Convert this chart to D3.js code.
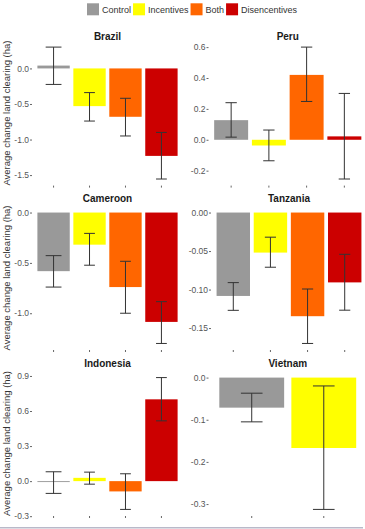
<!DOCTYPE html>
<html>
<head>
<meta charset="utf-8">
<style>
  body { margin: 0; background: #fff; }
  svg { display: block; font-family: "Liberation Sans", Arial, sans-serif; }
  .tick text { fill: #555; font-size: 8.5px; }
  .tick line { stroke: #666; }
</style>
</head>
<body>
<script src="https://cdn.jsdelivr.net/npm/d3@7"></script>
<script>
// treatments and colours
var treatments = ["Control", "Incentives", "Both", "Disencentives"];
var fills = ["#999999", "#ffff00", "#ff6600", "#cc0000"];

var countries = ["Brazil", "Peru", "Cameroon", "Tanzania", "Indonesia", "Vietnam"];

// mean change and error bar limits
var brazilMean = [0.04, -0.53, -0.68, -1.23];
var brazilLow  = [-0.225, -0.74, -0.95, -1.555];
var brazilHigh = [0.30, -0.34, -0.42, -0.90];

var peruMean = [0.127, -0.037, 0.42, 0.022];
var peruLow  = [0.017, -0.136, 0.248, -0.254];
var peruHigh = [0.24, 0.063, 0.60, 0.30];

var cameroonMean = [-0.582, -0.319, -0.740, -1.086];
var cameroonLow  = [-0.740, -0.523, -1.0, -1.30];
var cameroonHigh = [-0.428, -0.207, -0.484, -0.885];

var tanzaniaMean = [-0.1083, -0.052, -0.1346, -0.0907];
var tanzaniaLow  = [-0.127, -0.071, -0.170, -0.1268];
var tanzaniaHigh = [-0.091, -0.032, -0.0993, -0.0542];

var indonesiaMean = [-0.008, 0.028, -0.088, 0.70];
var indonesiaLow  = [-0.105, -0.026, -0.242, 0.516];
var indonesiaHigh = [0.08, 0.077, 0.063, 0.886];

var vietnamMean = [-0.0713, -0.167];
var vietnamLow  = [-0.105, -0.3127];
var vietnamHigh = [-0.037, -0.0198];

// y tick values
var brazilTicks = [0, -0.5, -1, -1.5];
var peruTicks = [0.6, 0.4, 0.2, 0, -0.2];
var cameroonTicks = [0, -0.5, -1];
var tanzaniaTicks = [0, -0.05, -0.1, -0.15];
var indonesiaTicks = [0.9, 0.6, 0.3, 0, -0.3];
var vietnamTicks = [0, -0.1, -0.2, -0.3];

var W = 365, H = 529;

var svg = d3.select("body").append("svg")
    .attr("width", W)
    .attr("height", H);

// panel layout
var rows = [{top: 40.5, bottom: 185.6, title: 39.5},
            {top: 206, bottom: 350, title: 201.5},
            {top: 371, bottom: 516, title: 367}];

var panels = [
  {name: countries[0], mean: brazilMean, lo: brazilLow, hi: brazilHigh, ticks: brazilTicks, dig: 1, x0: 32, x1: 183, row: 0},
  {name: countries[1], mean: peruMean, lo: peruLow, hi: peruHigh, ticks: peruTicks, dig: 1, x0: 208.5, x1: 367, row: 0},
  {name: countries[2], mean: cameroonMean, lo: cameroonLow, hi: cameroonHigh, ticks: cameroonTicks, dig: 1, x0: 32, x1: 183, row: 1},
  {name: countries[3], mean: tanzaniaMean, lo: tanzaniaLow, hi: tanzaniaHigh, ticks: tanzaniaTicks, dig: 2, x0: 211, x1: 367, row: 1},
  {name: countries[4], mean: indonesiaMean, lo: indonesiaLow, hi: indonesiaHigh, ticks: indonesiaTicks, dig: 1, x0: 32, x1: 183, row: 2},
  {name: countries[5], mean: vietnamMean, lo: vietnamLow, hi: vietnamHigh, ticks: vietnamTicks, dig: 1, x0: 208.5, x1: 367, row: 2}
];

panels.forEach(function(p, pi) {
  var r = rows[p.row];
  var cats = treatments.slice(0, p.mean.length);
  var data = cats.map(function(c, i) {
    return {cat: c, i: i, mean: p.mean[i], lo: p.lo[i], hi: p.hi[i]};
  });

  var x = d3.scaleBand()
      .domain(cats)
      .range([p.x0, p.x1])
      .paddingInner(0.1)
      .paddingOuter(0.15);
  var step = x.step();

  // ggplot style 5% expansion
  var mn = d3.min(data, function(d) { return Math.min(d.lo, d.mean, 0); });
  var mx = d3.max(data, function(d) { return Math.max(d.hi, d.mean, 0); });
  var pad = (mx - mn) * 0.05;
  var y = d3.scaleLinear()
      .domain([mn - pad, mx + pad])
      .range([r.bottom, r.top]);

  var g = svg.append("g");

  g.selectAll("rect.bar")
      .data(data)
      .enter()
      .append("rect")
      .attr("class", "bar")
      .attr("x", function(d) { return x(d.cat); })
      .attr("width", x.bandwidth())
      .attr("y", function(d) { return Math.min(y(0), y(d.mean)); })
      .attr("height", function(d) { return Math.max(0.8, Math.abs(y(d.mean) - y(0))); })
      .attr("fill", function(d) { return fills[d.i]; });

  // error bars
  var eb = g.selectAll("g.err")
      .data(data)
      .enter()
      .append("g")
      .attr("class", "err")
      .attr("stroke", "#333")
      .attr("stroke-width", 1)
      .attr("fill", "none");

  function capHalf(d) {
    // the control caps on the left column come out wider
    var f = (cats.length === 4 && p.x0 < 100 && d.i === 0) ? 0.44 : 0.3;
    return step * f / 2;
  }

  eb.append("line")
      .attr("x1", function(d) { return x(d.cat) + x.bandwidth() / 2; })
      .attr("x2", function(d) { return x(d.cat) + x.bandwidth() / 2; })
      .attr("y1", function(d) { return y(d.hi); })
      .attr("y2", function(d) { return y(d.lo); });
  eb.append("line")
      .attr("x1", function(d) { return x(d.cat) + x.bandwidth() / 2 - capHalf(d); })
      .attr("x2", function(d) { return x(d.cat) + x.bandwidth() / 2 + capHalf(d); })
      .attr("y1", function(d) { return y(d.hi); })
      .attr("y2", function(d) { return y(d.hi); });
  eb.append("line")
      .attr("x1", function(d) { return x(d.cat) + x.bandwidth() / 2 - capHalf(d); })
      .attr("x2", function(d) { return x(d.cat) + x.bandwidth() / 2 + capHalf(d); })
      .attr("y1", function(d) { return y(d.lo); })
      .attr("y2", function(d) { return y(d.lo); });

  // axes
  var yAxis = d3.axisLeft(y)
      .tickValues(p.ticks)
      .tickSize(2)
      .tickPadding(1)
      .tickFormat(function(v) { return v.toFixed(p.dig).replace("\u2212", "-"); });
  g.append("g")
      .attr("transform", "translate(" + p.x0 + ",0)")
      .call(yAxis)
      .call(function(a) { a.select(".domain").remove(); });

  var xAxis = d3.axisBottom(x)
      .tickSize(2)
      .tickFormat("");
  g.append("g")
      .attr("transform", "translate(0," + r.bottom + ")")
      .call(xAxis)
      .call(function(a) { a.select(".domain").remove(); });

  g.append("text")
      .attr("x", (p.x0 + p.x1) / 2)
      .attr("y", r.title)
      .attr("text-anchor", "middle")
      .attr("font-size", "10px")
      .attr("font-weight", "bold")
      .attr("fill", "#1a1a1a")
      .text(p.name);

  if (p.x0 < 100) {
    g.append("text")
        .attr("transform", "translate(10," + ((r.top + r.bottom) / 2) + ") rotate(-90)")
        .attr("text-anchor", "middle")
        .attr("font-size", "9.5px")
        .attr("fill", "#333")
        .text("Average change land clearing (ha)");
  }
});

// legend
var lx = 87;
treatments.forEach(function(t, i) {
  svg.append("rect")
      .attr("x", lx)
      .attr("y", 3.3)
      .attr("width", 12)
      .attr("height", 12)
      .attr("fill", fills[i]);
  var txt = svg.append("text")
      .attr("x", lx + 15)
      .attr("y", 12.8)
      .attr("font-size", "9px")
      .attr("fill", "#333")
      .text(t);
  lx = lx + 15 + txt.node().getComputedTextLength() + 2;
});

// thin frame line at the bottom
svg.append("line")
    .attr("x1", 0).attr("x2", 363)
    .attr("y1", 527.8).attr("y2", 527.8)
    .attr("stroke", "#b9b9c9")
    .attr("stroke-width", 1.5);
</script>
</body>
</html>
